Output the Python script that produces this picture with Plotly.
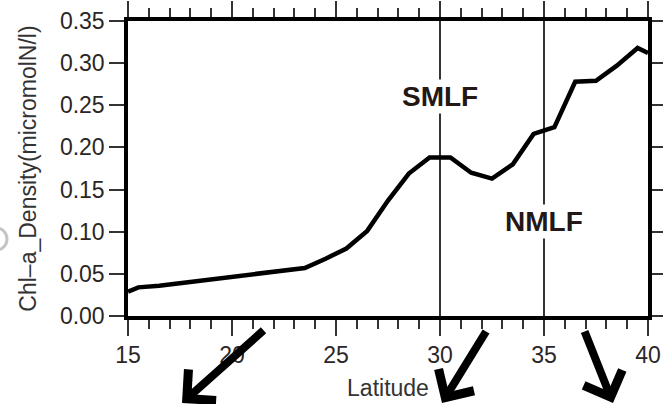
import plotly.graph_objects as go

# Chl-a density along the transect, sampled every half degree of latitude
latitude = [15.0, 15.5, 16.5, 17.5, 18.5, 19.5, 20.5, 21.5, 22.5, 23.5, 24.5,
            25.5, 26.5, 27.5, 28.5, 29.5, 30.5, 31.5, 32.5, 33.5, 34.5,
            35.5, 36.5, 37.5, 38.5, 39.5, 40.0]
chl_density = [0.029, 0.034, 0.036, 0.039, 0.042, 0.045, 0.047, 0.051, 0.054, 0.057,
               0.068, 0.080, 0.101, 0.137, 0.169, 0.188, 0.188, 0.170, 0.163, 0.180,
               0.216, 0.224, 0.278, 0.279, 0.297, 0.318, 0.312]

# Frontal zones: latitude of the marker line and height of its label
fronts = ["SMLF", "NMLF"]
front_lat = [30, 35]
front_label_y = [0.261, 0.112]

W, H = 663, 404
M_L, M_R, M_T, M_B = 128, 15, 21, 88
plot_w = W - M_L - M_R
plot_h = H - M_T - M_B


def px_to_paper(px, py):
    return (px - M_L) / plot_w, (H - M_B - py) / plot_h


FONT = "Liberation Sans, Arial, sans-serif"
TEXT_COLOR = "#2b2626"

fig = go.Figure()
fig.add_trace(go.Scatter(
    x=latitude, y=chl_density, mode="lines",
    line=dict(color="black", width=4.5), showlegend=False,
))

shapes = []
annotations = []
for name, lat, ly in zip(fronts, front_lat, front_label_y):
    shapes.append(dict(type="line", xref="x", yref="paper", x0=lat, x1=lat,
                       y0=0, y1=1, line=dict(color="black", width=1.6)))
    annotations.append(dict(x=lat, y=ly, xref="x", yref="y", text=f"<b>{name}</b>",
                            showarrow=False, bgcolor="white", borderpad=1,
                            font=dict(family=FONT, size=28, color="#231815")))

# Pointer arrows below the axis (tip position, tail position in pixels)
arrows = [((182, 404), (265, 329)), ((442, 404), (487, 330)), ((613, 405), (584, 330))]
for (tx, ty), (sx, sy) in arrows:
    px, py = px_to_paper(tx, ty)
    annotations.append(dict(x=px, y=py, xref="paper", yref="paper", text="",
                            showarrow=True, ax=sx - tx, ay=sy - ty,
                            arrowhead=4, arrowsize=1.0, arrowwidth=8,
                            arrowcolor="black"))

# Faint circular mark at the left edge
cx0, cy0 = px_to_paper(-14, 250)
cx1, cy1 = px_to_paper(7, 228)
shapes.append(dict(type="circle", xref="paper", yref="paper", x0=cx0, x1=cx1,
                   y0=cy0, y1=cy1, line=dict(color="#c4c4c4", width=3)))

axis_common = dict(
    showline=True, linecolor="black", linewidth=3.5, mirror="ticks",
    ticks="outside", tickcolor="#333333", tickwidth=1.5,
    showgrid=False, zeroline=False, automargin=False,
    tickfont=dict(family=FONT, size=23, color=TEXT_COLOR),
)

fig.update_layout(
    width=W, height=H,
    margin=dict(l=M_L, r=M_R, t=M_T, b=M_B),
    paper_bgcolor="white", plot_bgcolor="white",
    xaxis=dict(
        range=[15, 40], tickmode="linear", tick0=15, dtick=5, ticklen=16,
        minor=dict(dtick=1, ticks="outside", ticklen=9, tickwidth=1.5,
                   tickcolor="#333333", showgrid=False),
        title=dict(text="Latitude", standoff=14,
                   font=dict(family=FONT, size=23, color="#333333")),
        **axis_common,
    ),
    yaxis=dict(
        range=[0, 0.35], tickmode="linear", tick0=0, dtick=0.05, tickformat=".2f",
        ticklen=15,
        title=dict(text="Chl\u2013a_Density(micromolN/l)", standoff=18,
                   font=dict(family=FONT, size=23, color="#333333")),
        **axis_common,
    ),
    shapes=shapes,
    annotations=annotations,
)

fig.write_html("out.html")
